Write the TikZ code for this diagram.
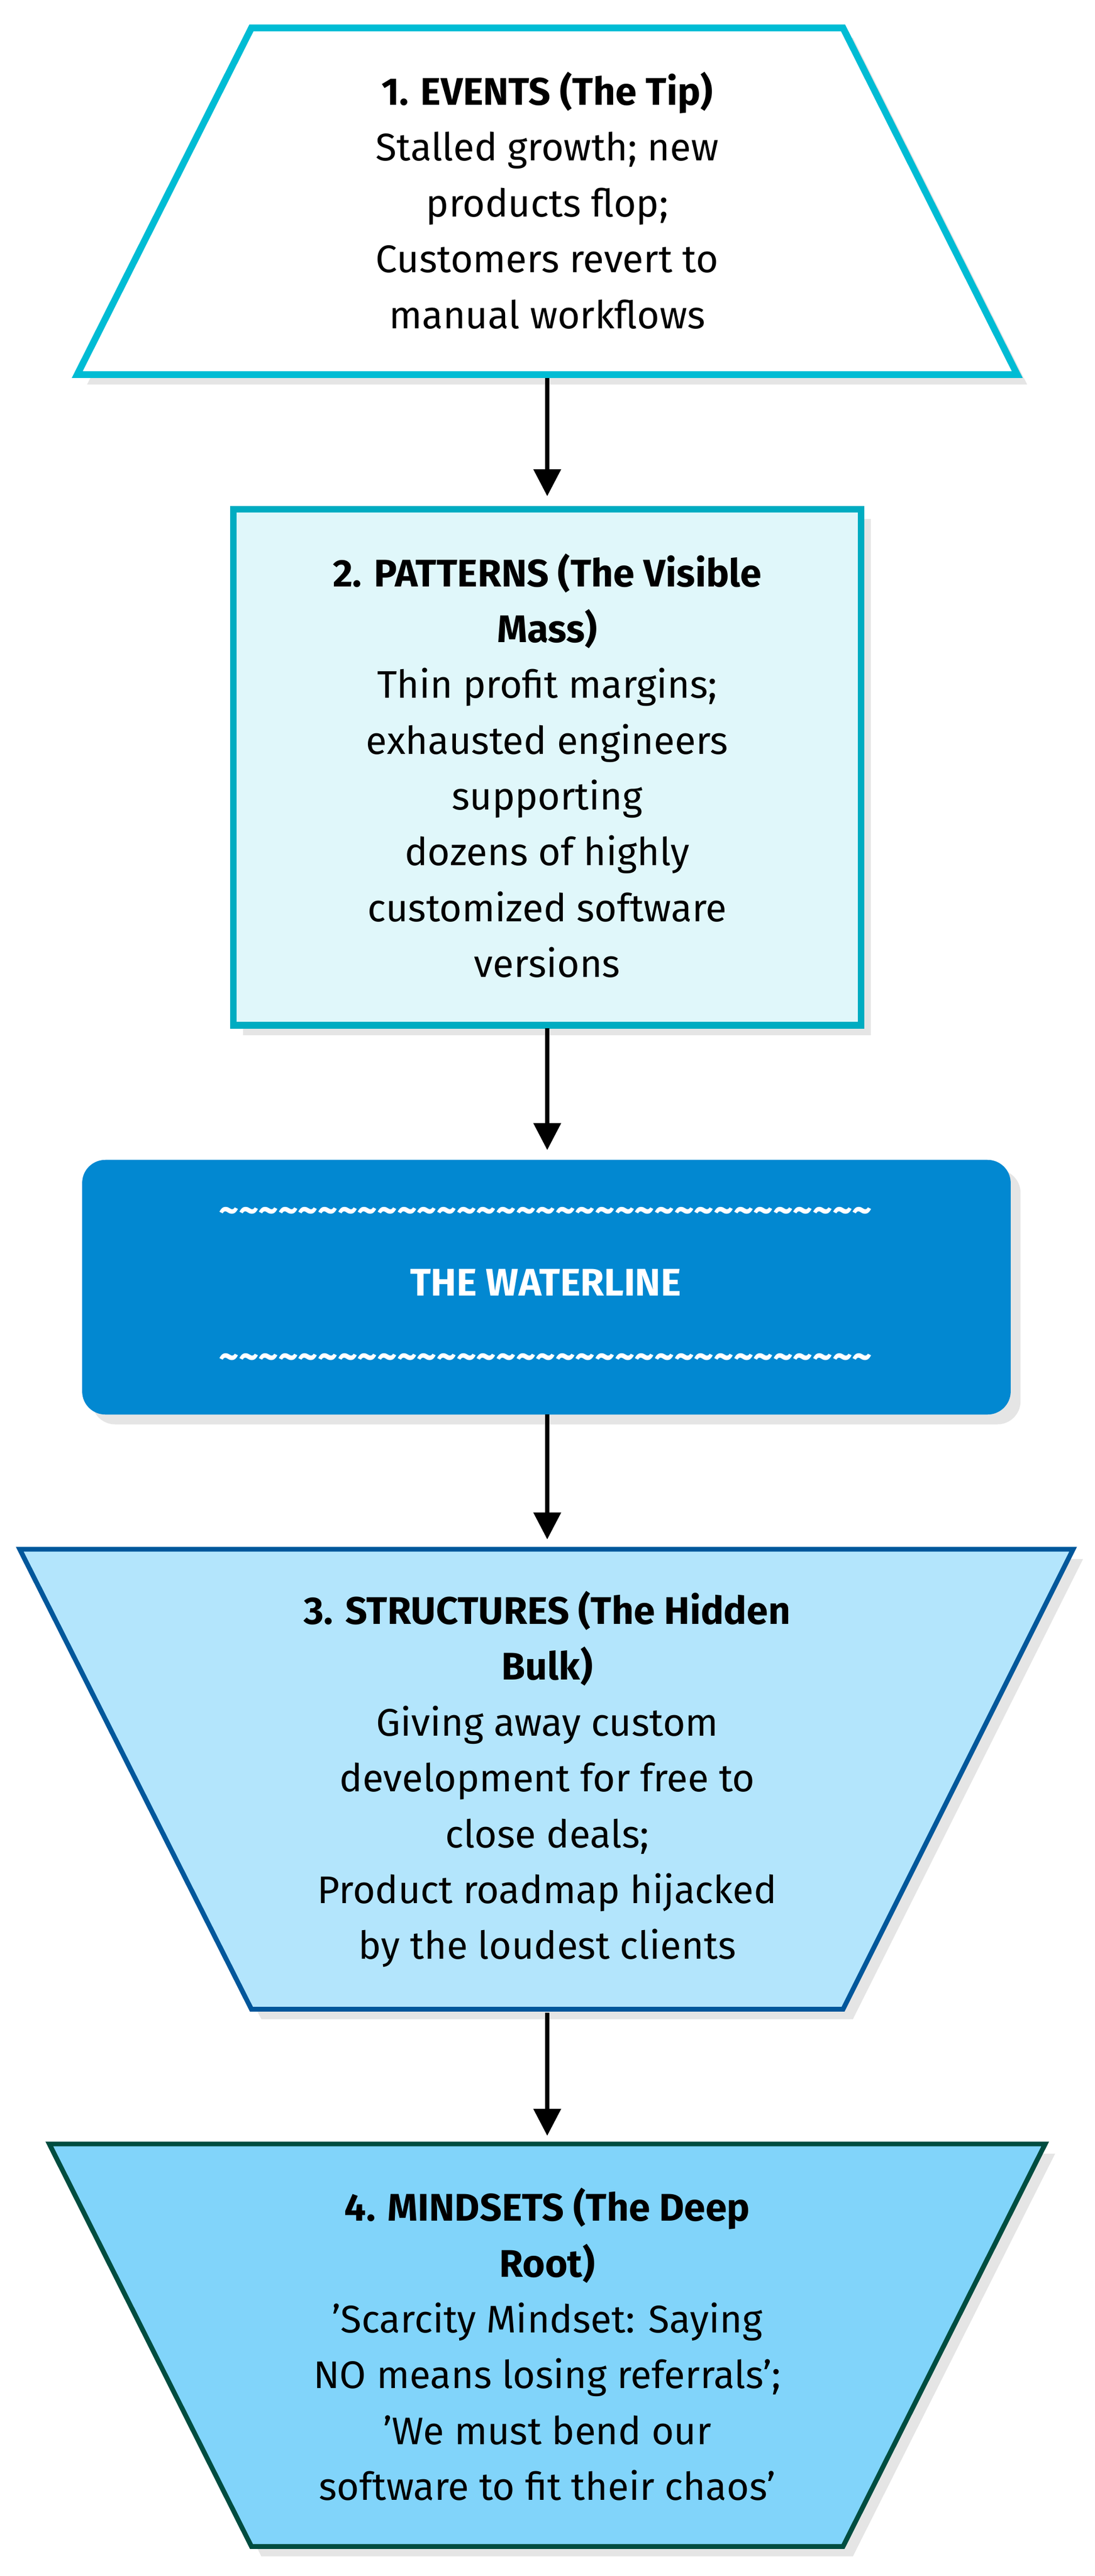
\documentclass[tikz,border=0pt]{standalone}
\usepackage{fontspec}
\setmainfont{Fira Sans}
\usepackage{tikz}
\usetikzlibrary{arrows.meta}
\definecolor{tipline}{RGB}{0,188,212}
\definecolor{massline}{RGB}{0,172,193}
\definecolor{massfill}{RGB}{224,247,250}
\definecolor{waterfill}{RGB}{2,136,209}
\definecolor{bulkfill}{RGB}{179,229,252}
\definecolor{bulkline}{RGB}{1,87,155}
\definecolor{rootfill}{RGB}{129,212,250}
\definecolor{rootline}{RGB}{0,77,64}
\newcommand{\waves}{\textasciitilde\textasciitilde\textasciitilde\textasciitilde\textasciitilde\textasciitilde\textasciitilde\textasciitilde\textasciitilde\textasciitilde\textasciitilde}

\begin{document}
\begin{tikzpicture}[x=0.03cm,y=-0.03cm,
  txt/.style={align=center, font=\fontsize{20}{29}\selectfont},
  shadow/.style={fill=black!10, draw=none},
  link/.style={-{Triangle[length=14pt,width=14pt]}, line width=2pt}]
\useasboundingbox (0,0) rectangle (666,1568);

% Events
\fill[shadow] (159,23) -- (519,23) -- (625,234) -- (53,234) -- cycle;
\draw[line width=3.5pt, tipline, fill=white] (153,17) -- (513,17) -- (619,228) -- (47,228) -- cycle;
\node[txt] (events) at (333,122) {\textbf{1. EVENTS (The Tip)}\\Stalled growth; new\\products flop;\\Customers revert to\\manual workflows};

% Patterns
\fill[shadow] (148,316) rectangle (530,630);
\draw[line width=3.5pt, massline, fill=massfill] (142,310) rectangle (524,624);
\node[txt] (patterns) at (333,466) {\textbf{2. PATTERNS (The Visible}\\\textbf{Mass)}\\Thin profit margins;\\exhausted engineers\\supporting\\dozens of highly\\customized software\\versions};

% Waterline
\fill[shadow, rounded corners=12pt] (56,712) rectangle (621,867);
\fill[waterfill, rounded corners=12pt] (50,706) rectangle (615,861);
\node[txt, text=white, font=\fontsize{20}{38}\selectfont\bfseries] (waterline) at (332,784) {\waves\waves\waves\\THE WATERLINE\\\waves\waves\waves};

% Structures
\fill[shadow] (18,949) -- (659,949) -- (519,1229) -- (159,1229) -- cycle;
\draw[line width=2.5pt, bulkline, fill=bulkfill] (12,943) -- (653,943) -- (513,1223) -- (153,1223) -- cycle;
\node[txt] (structures) at (333,1083) {\textbf{3. STRUCTURES (The Hidden}\\\textbf{Bulk)}\\Giving away custom\\development for free to\\close deals;\\Product roadmap hijacked\\by the loudest clients};

% Mindsets
\fill[shadow] (36,1311) -- (642,1311) -- (519,1556) -- (159,1556) -- cycle;
\draw[line width=2.5pt, rootline, fill=rootfill] (30,1305) -- (636,1305) -- (513,1550) -- (153,1550) -- cycle;
\node[txt] (mindsets) at (333,1427) {\textbf{4. MINDSETS (The Deep}\\\textbf{Root)}\\'Scarcity Mindset: Saying\\NO means losing referrals';\\'We must bend our\\software to fit their chaos'};

% Connectors
\coordinate (e1) at (333,230);  \coordinate (p0) at (333,302);
\coordinate (p1) at (333,626);  \coordinate (w0) at (333,700);
\coordinate (w1) at (333,861);  \coordinate (s0) at (333,937);
\coordinate (s1) at (333,1225); \coordinate (m0) at (333,1300);
\draw[link] (e1) -- (p0);
\draw[link] (p1) -- (w0);
\draw[link] (w1) -- (s0);
\draw[link] (s1) -- (m0);
\end{tikzpicture}
\end{document}
